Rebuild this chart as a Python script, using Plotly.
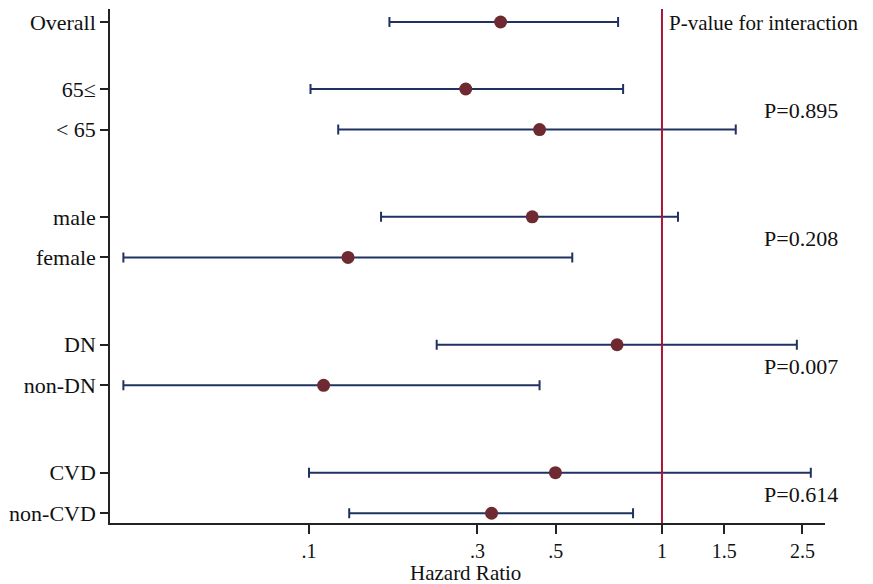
import plotly.graph_objects as go
import numpy as np

labels = ["Overall", "65≤", "< 65", "male", "female", "DN", "non-DN", "CVD", "non-CVD"]
hr = [0.349, 0.278, 0.450, 0.429, 0.129, 0.746, 0.110, 0.499, 0.329]
ci_low = [0.169, 0.101, 0.121, 0.160, 0.0298, 0.230, 0.0298, 0.100, 0.130]
ci_high = [0.751, 0.776, 1.618, 1.11, 0.557, 2.41, 0.450, 2.64, 0.828]
groups = [0, 1, 1, 2, 2, 3, 3, 4, 4]
p_values = ["P=0.895", "P=0.208", "P=0.007", "P=0.614"]
xtick_vals = [0.1, 0.3, 0.5, 1, 1.5, 2.5]
xtick_text = [".1", ".3", ".5", "1", "1.5", "2.5"]

# row positions (layout): gap between groups
ypos = []
cur = 0.0
for i, g in enumerate(groups):
    if i > 0:
        if g != groups[i - 1]:
            cur += 1.65 if groups[i - 1] == 0 else 2.15
        else:
            cur += 1.0
    ypos.append(cur)

font_family = "Liberation Serif, Times New Roman, serif"
fs = 22
line_col = "#1f3261"
mark_col = "#6e2a30"
ref_col = "#a8163a"

hr_a = np.array(hr)
fig = go.Figure()
fig.add_trace(go.Scatter(
    x=hr, y=ypos, mode="markers",
    marker=dict(color=mark_col, size=13),
    error_x=dict(type="data", symmetric=False,
                 array=list(np.array(ci_high) - hr_a),
                 arrayminus=list(hr_a - np.array(ci_low)),
                 color=line_col, thickness=2, width=5),
    showlegend=False, cliponaxis=False,
))

fig.add_shape(type="line", xref="x", yref="paper", x0=1, x1=1, y0=0, y1=1,
              line=dict(color=ref_col, width=2))

annotations = [dict(x=0, y=1, xref="x", yref="paper", xanchor="left", yanchor="top",
                    xshift=5, yshift=0, text="P-value for interaction", showarrow=False,
                    font=dict(family=font_family, size=21, color="#111"))]
for gi, ptxt in enumerate(p_values):
    ys = [ypos[i] for i, g in enumerate(groups) if g == gi + 1]
    annotations.append(dict(x=np.log10(2.47), y=(ys[0] + ys[-1]) / 2 + 0.03, xref="x", yref="y",
                            text=ptxt, showarrow=False, xanchor="center", yanchor="middle",
                            font=dict(family=font_family, size=fs, color="#111")))
annotations.append(dict(x=np.log10(0.277), y=0, xref="x", yref="paper", yanchor="top",
                        yshift=-36, text="Hazard Ratio", showarrow=False,
                        font=dict(family=font_family, size=21, color="#111")))

fig.update_layout(
    width=865, height=576,
    margin=dict(l=102, r=48, t=1, b=61),
    paper_bgcolor="white", plot_bgcolor="white",
    font=dict(family=font_family, size=fs, color="#111"),
    annotations=annotations,
    xaxis=dict(type="log", range=[-1.5637, 0.4618],
               tickvals=xtick_vals, ticktext=xtick_text,
               ticks="outside", ticklen=9, tickwidth=1.5, tickcolor="#222",
               showline=True, linecolor="#222", linewidth=1.5,
               showgrid=False, zeroline=False,
               tickfont=dict(family=font_family, size=20, color="#111")),
    yaxis=dict(range=[12.34, -0.32], tickvals=ypos, ticktext=labels,
               ticks="outside", ticklen=8, tickwidth=1.5, tickcolor="#222",
               showline=True, linecolor="#222", linewidth=1.5,
               showgrid=False, zeroline=False,
               tickfont=dict(family=font_family, size=fs, color="#111")),
)

fig.write_html("out.html")
